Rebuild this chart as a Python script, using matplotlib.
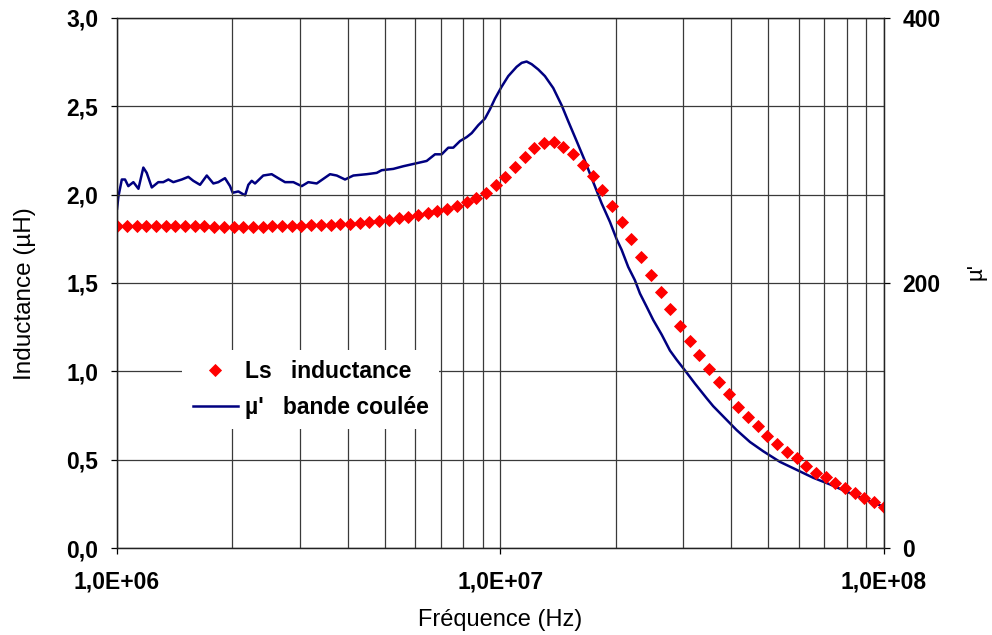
import matplotlib
matplotlib.use("Agg")
import matplotlib.pyplot as plt
from matplotlib.ticker import FixedLocator, FuncFormatter, LogLocator, NullFormatter

plt.rcParams['font.family'] = ['Liberation Sans', 'DejaVu Sans']

# Ls inductance (µH), sweep frequencies in MHz
freq_ls = [1.000, 1.060, 1.124, 1.191, 1.263, 1.338, 1.419, 1.504, 1.594, 1.690,
           1.791, 1.899, 2.013, 2.134, 2.262, 2.398, 2.542, 2.694, 2.856, 3.027,
           3.209, 3.402, 3.606, 3.822, 4.052, 4.295, 4.553, 4.826, 5.116, 5.423,
           5.749, 6.094, 6.460, 6.847, 7.258, 7.694, 8.156, 8.646, 9.165, 9.713,
           10.30, 10.91, 11.57, 12.26, 13.00, 13.78, 14.60, 15.48, 16.41, 17.39,
           18.44, 19.55, 20.72, 21.96, 23.28, 24.68, 26.16, 27.73, 29.40, 31.16,
           33.03, 35.02, 37.12, 39.35, 41.71, 44.21, 46.87, 49.68, 52.66, 55.83,
           59.18, 62.73, 66.49, 70.49, 74.72, 79.20, 83.96, 88.99, 94.34, 100.0]
ls_vals = [1.823, 1.822, 1.822, 1.822, 1.822, 1.821, 1.821, 1.821, 1.820, 1.820,
           1.819, 1.819, 1.819, 1.819, 1.819, 1.819, 1.820, 1.820, 1.821, 1.822,
           1.825, 1.826, 1.829, 1.832, 1.836, 1.841, 1.846, 1.851, 1.858, 1.866,
           1.874, 1.884, 1.893, 1.905, 1.918, 1.935, 1.956, 1.981, 2.011, 2.053,
           2.101, 2.158, 2.214, 2.262, 2.290, 2.299, 2.271, 2.228, 2.169, 2.105,
           2.026, 1.937, 1.843, 1.747, 1.647, 1.547, 1.449, 1.354, 1.258, 1.171,
           1.092, 1.011, 0.941, 0.870, 0.800, 0.743, 0.689, 0.636, 0.587, 0.542,
           0.508, 0.466, 0.426, 0.400, 0.366, 0.338, 0.310, 0.285, 0.259, 0.230]

# µ' bande coulée
freq_mu = [1.000, 1.008, 1.029, 1.049, 1.070, 1.103, 1.137, 1.171, 1.195, 1.232,
           1.281, 1.320, 1.361, 1.402, 1.475, 1.534, 1.581, 1.646, 1.714, 1.783,
           1.837, 1.912, 1.971, 2.003, 2.072, 2.157, 2.200, 2.245, 2.290, 2.406,
           2.531, 2.633, 2.742, 2.883, 3.031, 3.154, 3.317, 3.593, 3.741, 3.932,
           4.133, 4.478, 4.756, 4.900, 5.254, 5.578, 5.985, 6.421, 6.749, 7.026,
           7.310, 7.532, 7.843, 8.165, 8.414, 8.754, 9.113, 9.390, 9.676, 10.07,
           10.48, 11.02, 11.36, 11.70, 12.06, 12.55, 13.06, 13.73, 14.44, 15.02,
           15.80, 16.61, 17.46, 18.36, 19.30, 20.09, 20.70, 21.54, 22.42, 23.11,
           24.06, 25.03, 26.33, 27.67, 28.81, 30.28, 32.16, 34.49, 35.88, 38.49,
           41.29, 44.74, 48.45, 53.56, 59.21, 65.41, 72.32, 79.94, 88.31, 100.0]
mu_vals = [256, 265, 278, 278, 273, 276, 271, 287, 283, 272,
           276, 276, 278, 276, 278, 280, 277, 274, 281, 275,
           276, 279, 273, 268, 269, 266, 274, 277, 275, 281,
           282, 279, 276, 276, 273, 276, 275, 282, 281, 278,
           281, 282, 283, 285, 286, 288, 290, 292, 297, 297,
           302, 302, 307, 310, 313, 319, 324, 331, 339, 348,
           356, 363, 366, 367, 365, 361, 356, 347, 334, 322,
           307, 292, 276, 260, 246, 233, 225, 212, 202, 192,
           182, 172, 161, 149, 142, 134, 124, 113, 107, 98,
           89, 80, 73, 65, 59, 53, 48, 42.5, 37.5, 31]

fig = plt.figure(figsize=(9.92, 6.35), dpi=100)
ax = fig.add_axes([0.118, 0.137, 0.773, 0.835])
ax2 = ax.twinx()

hz_ls = [f * 1e6 for f in freq_ls]
hz_mu = [f * 1e6 for f in freq_mu]

ax.set_xscale('log')
ax.set_xlim(1e6, 1e8)
ax.set_ylim(0, 3.0)
ax2.set_ylim(0, 400)

ax.set_yticks([0, 0.5, 1.0, 1.5, 2.0, 2.5, 3.0])
ax.yaxis.set_major_formatter(FuncFormatter(lambda v, p: f"{v:.1f}".replace('.', ',')))
ax.xaxis.set_major_locator(FixedLocator([1e6, 1e7, 1e8]))
ax.xaxis.set_major_formatter(FuncFormatter(lambda v, p: f"{v:.1E}".replace('.', ',')))
ax.xaxis.set_minor_locator(LogLocator(base=10, subs=range(2, 10)))
ax.xaxis.set_minor_formatter(NullFormatter())
ax2.set_yticks([0, 200, 400])

ax.grid(True, which='both', axis='x', color='#3a3a3a', lw=0.9)
ax.grid(True, which='major', axis='y', color='#3a3a3a', lw=0.9)
ax.set_axisbelow(True)

ax.tick_params(axis='y', which='major', length=4.5, width=0.9, labelsize=16.5, pad=9)
ax.tick_params(axis='x', which='major', length=4.5, width=0.9, labelsize=16.5, pad=12)
ax.tick_params(axis='x', which='minor', length=0)
ax2.tick_params(axis='y', length=4.5, width=0.9, labelsize=16.5, pad=9)
for lab in ax.get_xticklabels() + ax.get_yticklabels() + ax2.get_yticklabels():
    lab.set_fontweight('bold')

# the µ' curve sits under the diamonds on the twin axis
ax2.plot(hz_mu, mu_vals, color='#000080', lw=1.8, zorder=2, label="µ'   bande coulée")
ax2.set_zorder(1)
ax.set_zorder(2)
ax.patch.set_visible(False)
ax.plot(hz_ls, ls_vals, linestyle='none', marker='D', ms=6.4, color='#ff0000',
        mec='#ff0000', mew=0.6, label='Ls   inductance')

# axis titles
fig.text(0.5 * (117 + 884) / 992, 1 - 620 / 635, 'Fréquence (Hz)', fontsize=17,
         ha='center', va='center')
fig.text(25 / 992, 1 - 294 / 635, 'Inductance (µH)', fontsize=17.5,
         ha='center', va='center', rotation=90)
fig.text(976 / 992, 1 - 272 / 635, "µ'", fontsize=16, ha='center', va='center',
         rotation=90)

for sp in list(ax.spines.values()) + list(ax2.spines.values()):
    sp.set_color('#222222')
    sp.set_linewidth(0.9)

h1, l1 = ax.get_legend_handles_labels()
h2, l2 = ax2.get_legend_handles_labels()
leg = ax.legend(h1 + h2, l1 + l2, loc='upper left', bbox_to_anchor=(0.07, 0.395),
                frameon=True, framealpha=1, facecolor='white', edgecolor='none',
                fancybox=False, prop={'weight': 'bold', 'size': 16.5},
                handlelength=2.0, handletextpad=0.3, borderpad=0.45, labelspacing=0.55)

fig.savefig('out.png', dpi=100)
